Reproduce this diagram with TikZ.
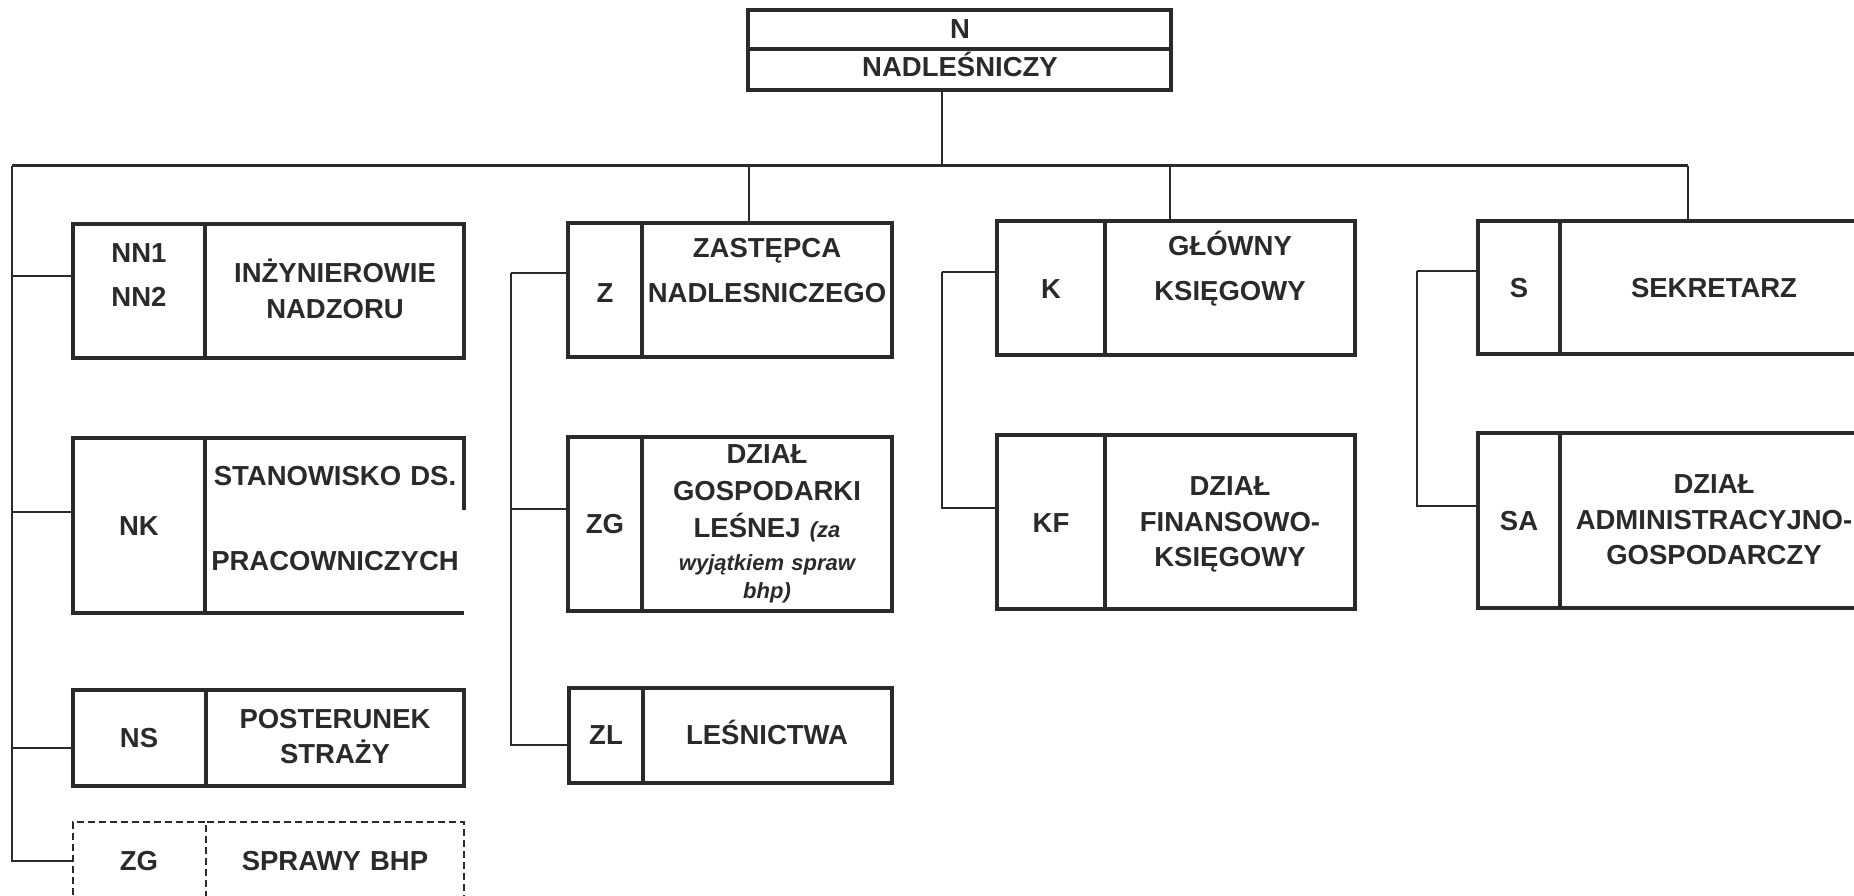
\documentclass[tikz,border=0pt]{standalone}
\usepackage{fontspec}
\setmainfont{Liberation Sans}
\definecolor{ink}{RGB}{42,42,42}
\begin{document}
\begin{tikzpicture}[x=1pt,y=-1pt,
  cell/.style={draw=ink, line width=4.5pt, rectangle, inner sep=0pt, outer sep=0pt, anchor=north west},
  dcell/.style={cell, line width=2.5pt, dash pattern=on 7pt off 4pt},
  txt/.style={text=ink, font=\bfseries\fontsize{27.5}{37}\selectfont, anchor=base, align=center, text width=330pt, inner sep=0pt},
  itxt/.style={txt, font=\bfseries\itshape\fontsize{22}{28}\selectfont},
  link/.style={draw=ink, line width=2.2pt},
  bus/.style={draw=ink, line width=3pt}]
\useasboundingbox (0,0) rectangle (1854,896);
\clip (0,0) rectangle (1854,896);

% ---- top box
\node[cell, minimum width=423pt, minimum height=39pt] (nC) at (748,10) {};
\node[cell, minimum width=423pt, minimum height=41pt] (nN) at (748,49) {};
\node[txt] (nCt) at (960,39) {N};
\node[txt] (nNt) at (960,77) {NADLEŚNICZY};

% ---- bus
\coordinate (bL) at (12,166);
\coordinate (bR) at (1688,166);
\coordinate (stem) at (942,90);
\coordinate (dZ) at (749,166);
\coordinate (dK) at (1170,166);
\draw[bus] (bL) -- (bR);
\draw[link] (stem) -- (stem |- bL);

% ---- column 1
\node[cell, minimum width=132pt, minimum height=134pt] (nnC) at (73,224) {};
\node[cell, minimum width=259pt, minimum height=134pt] (nnN) at (205,224) {};
\node[txt] (nnCt) at (139,262) {NN1\\[7pt]NN2};
\node[txt] (nnNt) at (335,282) {INŻYNIEROWIE\\[-1pt]NADZORU};

\node[cell, minimum width=132pt, minimum height=175pt] (nkC) at (73,438) {};
\node[cell, draw=none, minimum width=259pt, minimum height=175pt] (nkN) at (205,438) {};
\draw[ink, line width=4.5pt] ([yshift=-72pt]nkN.north east) -- (nkN.north east) -- (nkN.north west) -- (nkN.south west) -- (nkN.south east);
\node[txt] (nkCt) at (139,535) {NK};
\node[txt] (nkNt) at (335,485) {STANOWISKO DS.\\[48pt]PRACOWNICZYCH};

\node[cell, minimum width=133pt, minimum height=96pt] (nsC) at (73,690) {};
\node[cell, minimum width=258pt, minimum height=96pt] (nsN) at (206,690) {};
\node[txt] (nsCt) at (139,747) {NS};
\node[txt] (nsNt) at (335,728) {POSTERUNEK\\[-2pt]STRAŻY};

\node[dcell, minimum width=133pt, minimum height=130pt] (zgdC) at (73,822) {};
\node[dcell, minimum width=258pt, minimum height=130pt] (zgdN) at (206,822) {};
\node[txt] (zgdCt) at (139,870) {ZG};
\node[txt] (zgdNt) at (335,870) {SPRAWY BHP};

\draw[link] (bL) |- (zgdC.west |- 0,861);
\draw[link] (bL |- 0,276) -- (nnC.west |- 0,276);
\draw[link] (bL |- 0,512) -- (nkC.west |- 0,512);
\draw[link] (bL |- 0,748) -- (nsC.west |- 0,748);

% ---- column 2
\node[cell, minimum width=74pt, minimum height=134pt] (zC) at (568,223) {};
\node[cell, minimum width=250pt, minimum height=134pt] (zN) at (642,223) {};
\node[txt] (zCt) at (605,302) {Z};
\node[txt] (zNt) at (767,257) {ZASTĘPCA\\[8pt]NADLESNICZEGO};

\node[cell, minimum width=74pt, minimum height=174pt] (zgC) at (568,437) {};
\node[cell, minimum width=250pt, minimum height=174pt] (zgN) at (642,437) {};
\node[txt] (zgCt) at (605,533) {ZG};
\node[txt] (zgNt) at (767,463) {DZIAŁ\\GOSPODARKI\\LEŚNEJ {\itshape\fontsize{22}{28}\selectfont (za}};
\node[itxt] (zgNi) at (767,570) {wyjątkiem spraw\\bhp)};

\node[cell, minimum width=74pt, minimum height=95pt] (zlC) at (569,688) {};
\node[cell, minimum width=249pt, minimum height=95pt] (zlN) at (643,688) {};
\node[txt] (zlCt) at (606,744) {ZL};
\node[txt] (zlNt) at (767,744) {LEŚNICTWA};

\coordinate (s2) at (511,273);
\draw[link] (dZ) -- (dZ |- zN.north);
\draw[link] (s2) |- (zlC.west |- 0,745);
\draw[link] (s2) -- (zC.west |- s2);
\draw[link] (s2 |- 0,509) -- (zgC.west |- 0,509);

% ---- column 3
\node[cell, minimum width=108pt, minimum height=134pt] (kC) at (997,221) {};
\node[cell, minimum width=250pt, minimum height=134pt] (kN) at (1105,221) {};
\node[txt] (kCt) at (1051,298) {K};
\node[txt] (kNt) at (1230,255) {GŁÓWNY\\[8pt]KSIĘGOWY};

\node[cell, minimum width=108pt, minimum height=174pt] (kfC) at (997,435) {};
\node[cell, minimum width=250pt, minimum height=174pt] (kfN) at (1105,435) {};
\node[txt] (kfCt) at (1051,532) {KF};
\node[txt] (kfNt) at (1230,495) {DZIAŁ\\[-1pt]FINANSOWO-\\[-2pt]KSIĘGOWY};

\coordinate (s3) at (942,272);
\draw[link] (dK) -- (dK |- kC.north);
\draw[link] (s3) |- (kfC.west |- 0,508);
\draw[link] (s3) -- (kC.west |- s3);

% ---- column 4
\node[cell, minimum width=82pt, minimum height=133pt] (sC) at (1478,221) {};
\node[cell, minimum width=308pt, minimum height=133pt] (sN) at (1560,221) {};
\node[txt] (sCt) at (1519,297) {S};
\node[txt] (sNt) at (1714,297) {SEKRETARZ};

\node[cell, minimum width=82pt, minimum height=175pt] (saC) at (1478,433) {};
\node[cell, minimum width=308pt, minimum height=175pt] (saN) at (1560,433) {};
\node[txt] (saCt) at (1519,530) {SA};
\node[txt] (saNt) at (1714,493) {DZIAŁ\\[-1pt]ADMINISTRACYJNO-\\[-2pt]GOSPODARCZY};

\coordinate (s4) at (1417,271);
\draw[link] (bR) -- (bR |- sN.north);
\draw[link] (s4) |- (saC.west |- 0,506);
\draw[link] (s4) -- (sC.west |- s4);
\end{tikzpicture}
\end{document}
